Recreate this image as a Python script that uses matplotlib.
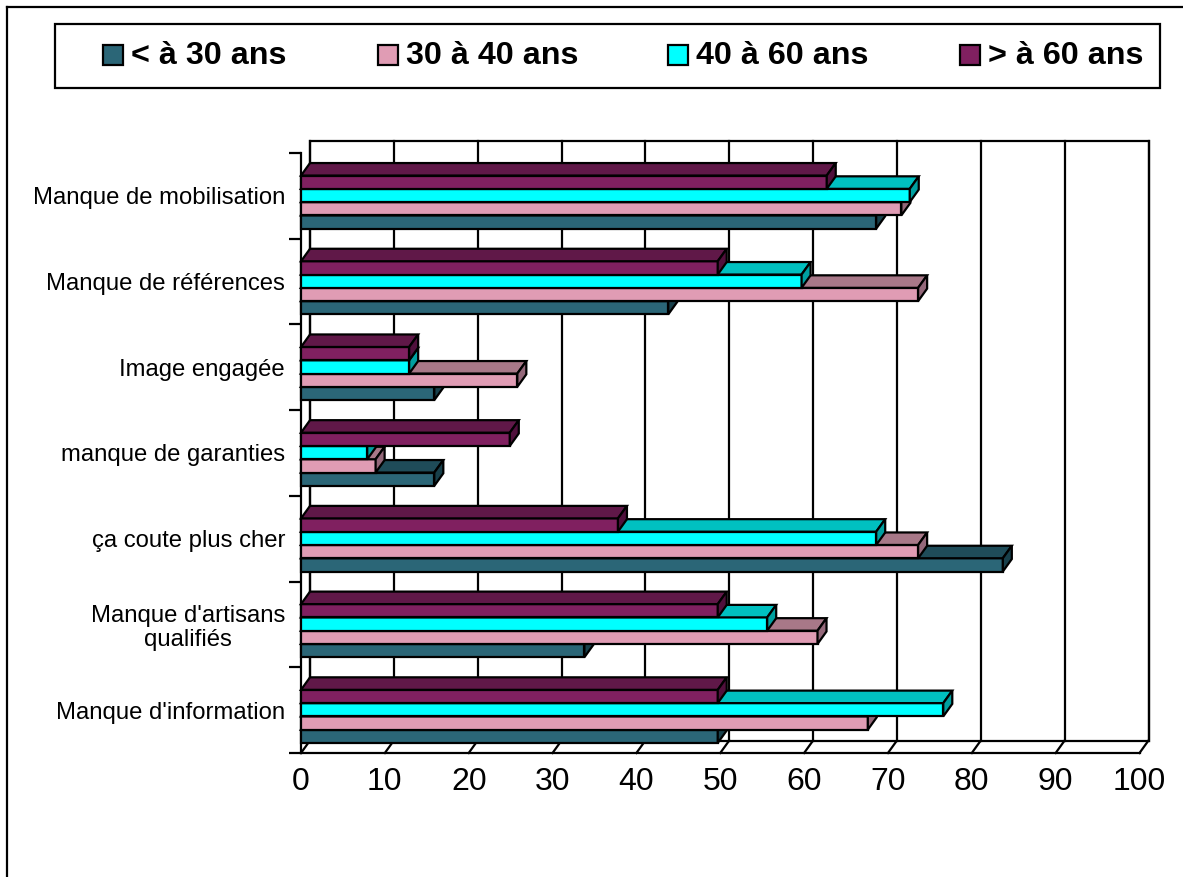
import numpy as np
import matplotlib
matplotlib.use("Agg")
import matplotlib.pyplot as plt
from matplotlib.patches import Polygon, Rectangle
from matplotlib.lines import Line2D

# data (categories bottom -> top)
categories = ["Manque d'information", "Manque d'artisans\nqualifiés", "ça coute plus cher",
              "manque de garanties", "Image engagée", "Manque de références",
              "Manque de mobilisation"]
series_names = ["< à 30 ans", "30 à 40 ans", "40 à 60 ans", "> à 60 ans"]
under_30 = [49.7, 33.8, 83.7, 15.9, 15.9, 43.8, 68.6]
age_30_40 = [67.6, 61.6, 73.6, 8.9, 25.8, 73.6, 71.6]
age_40_60 = [76.6, 55.6, 68.6, 7.9, 12.9, 59.7, 72.6]
over_60 = [49.7, 49.7, 37.8, 24.9, 12.9, 49.7, 62.7]
x_ticks = list(range(0, 101, 10))

series = [under_30, age_30_40, age_40_60, over_60]
front_cols = ["#2B6677", "#E09CB4", "#00FFFF", "#802060"]
top_cols = ["#1F4C59", "#A87888", "#00C0C0", "#601848"]
side_cols = ["#18404B", "#94687A", "#00A0A0", "#50103C"]

W, H = 1183, 877
fig = plt.figure(figsize=(W / 100, H / 100), dpi=100)

# front plane of the plot in pixels
x0, x1, yb, yt = 301, 1139.5, 753, 153
ax = fig.add_axes([x0 / W, 1 - yb / H, (x1 - x0) / W, (yb - yt) / H])
ax.set_xlim(0, 100)
ax.set_ylim(0, len(categories))

# depth offset (pixels -> data units)
DX = 9 * 100 / (x1 - x0)
DY = 12.5 * len(categories) / (yb - yt)
lw = 1.6

# back wall
ax.add_patch(Polygon([(DX, DY), (100 + DX, DY), (100 + DX, 7 + DY), (DX, 7 + DY)],
                     closed=True, facecolor="white", edgecolor="black", lw=lw,
                     clip_on=False, zorder=1))
for t in x_ticks:
    ax.add_line(Line2D([t + DX, t + DX], [DY, 7 + DY], color="black", lw=lw,
                       clip_on=False, zorder=1.5))
    # floor diagonals
    ax.add_line(Line2D([t, t + DX], [0, DY], color="black", lw=lw,
                       clip_on=False, zorder=1.5))

# bars
bar_h = 0.155
start = 0.5 - (len(series) * bar_h + DY) / 2
z = 3
for i in range(len(categories)):
    for s, vals in enumerate(series):
        v = vals[i]
        y0 = i + start + s * bar_h
        y1 = y0 + bar_h
        kw = dict(closed=True, edgecolor="black", lw=lw, joinstyle="miter",
                  clip_on=False, zorder=z)
        ax.add_patch(Polygon([(0, y0), (v, y0), (v, y1), (0, y1)],
                             facecolor=front_cols[s], **kw))
        ax.add_patch(Polygon([(0, y1), (v, y1), (v + DX, y1 + DY), (DX, y1 + DY)],
                             facecolor=top_cols[s], **kw))
        ax.add_patch(Polygon([(v, y0), (v + DX, y0 + DY), (v + DX, y1 + DY), (v, y1)],
                             facecolor=side_cols[s], **kw))
        z += 0.1

# axes styling
for sp in ["top", "right"]:
    ax.spines[sp].set_visible(False)
ax.spines["left"].set_linewidth(lw)
ax.spines["bottom"].set_linewidth(lw)
ax.spines["left"].set_zorder(2)
ax.spines["bottom"].set_zorder(2)
ax.patch.set_alpha(0)

ax.set_yticks(np.arange(0, len(categories) + 1))
ax.set_yticklabels([])
ax.set_yticks(np.arange(len(categories)) + 0.5, minor=True)
ax.set_yticklabels(categories, minor=True, fontsize=17.2, family="Liberation Sans",
                   multialignment="center", linespacing=1.15)
ax.tick_params(axis="y", which="major", length=8.6, width=lw, direction="out")
ax.tick_params(axis="y", which="minor", length=0, pad=11.5)

ax.set_xticks(x_ticks)
ax.set_xticklabels([str(t) for t in x_ticks], fontsize=23,
                   family=["Liberation Sans Narrow", "Liberation Sans", "DejaVu Sans"])
ax.tick_params(axis="x", length=0, pad=10)

# legend box
fig.add_artist(Rectangle((55 / W, 1 - 88 / H), (1160 - 55) / W, 64 / H,
                         transform=fig.transFigure, facecolor="white",
                         edgecolor="black", lw=lw))
leg_x = [103, 378, 668, 960]
for s, name in enumerate(series_names):
    fig.add_artist(Rectangle((leg_x[s] / W, 1 - 65 / H), 20 / W, 20 / H,
                             transform=fig.transFigure, facecolor=front_cols[s],
                             edgecolor="black", lw=lw))
    fig.text((leg_x[s] + 28) / W, 1 - 55.5 / H, name, fontsize=23.2,
             fontweight="bold", family="Liberation Sans", va="center", ha="left")

# outer border (runs off right and bottom)
fig.add_artist(Line2D([7 / W, 7 / W], [0, 1 - 7 / H], transform=fig.transFigure,
                      color="black", lw=lw))
fig.add_artist(Line2D([7 / W, 1], [1 - 7 / H, 1 - 7 / H], transform=fig.transFigure,
                      color="black", lw=lw))

fig.savefig("out.png", dpi=100, facecolor="white")
